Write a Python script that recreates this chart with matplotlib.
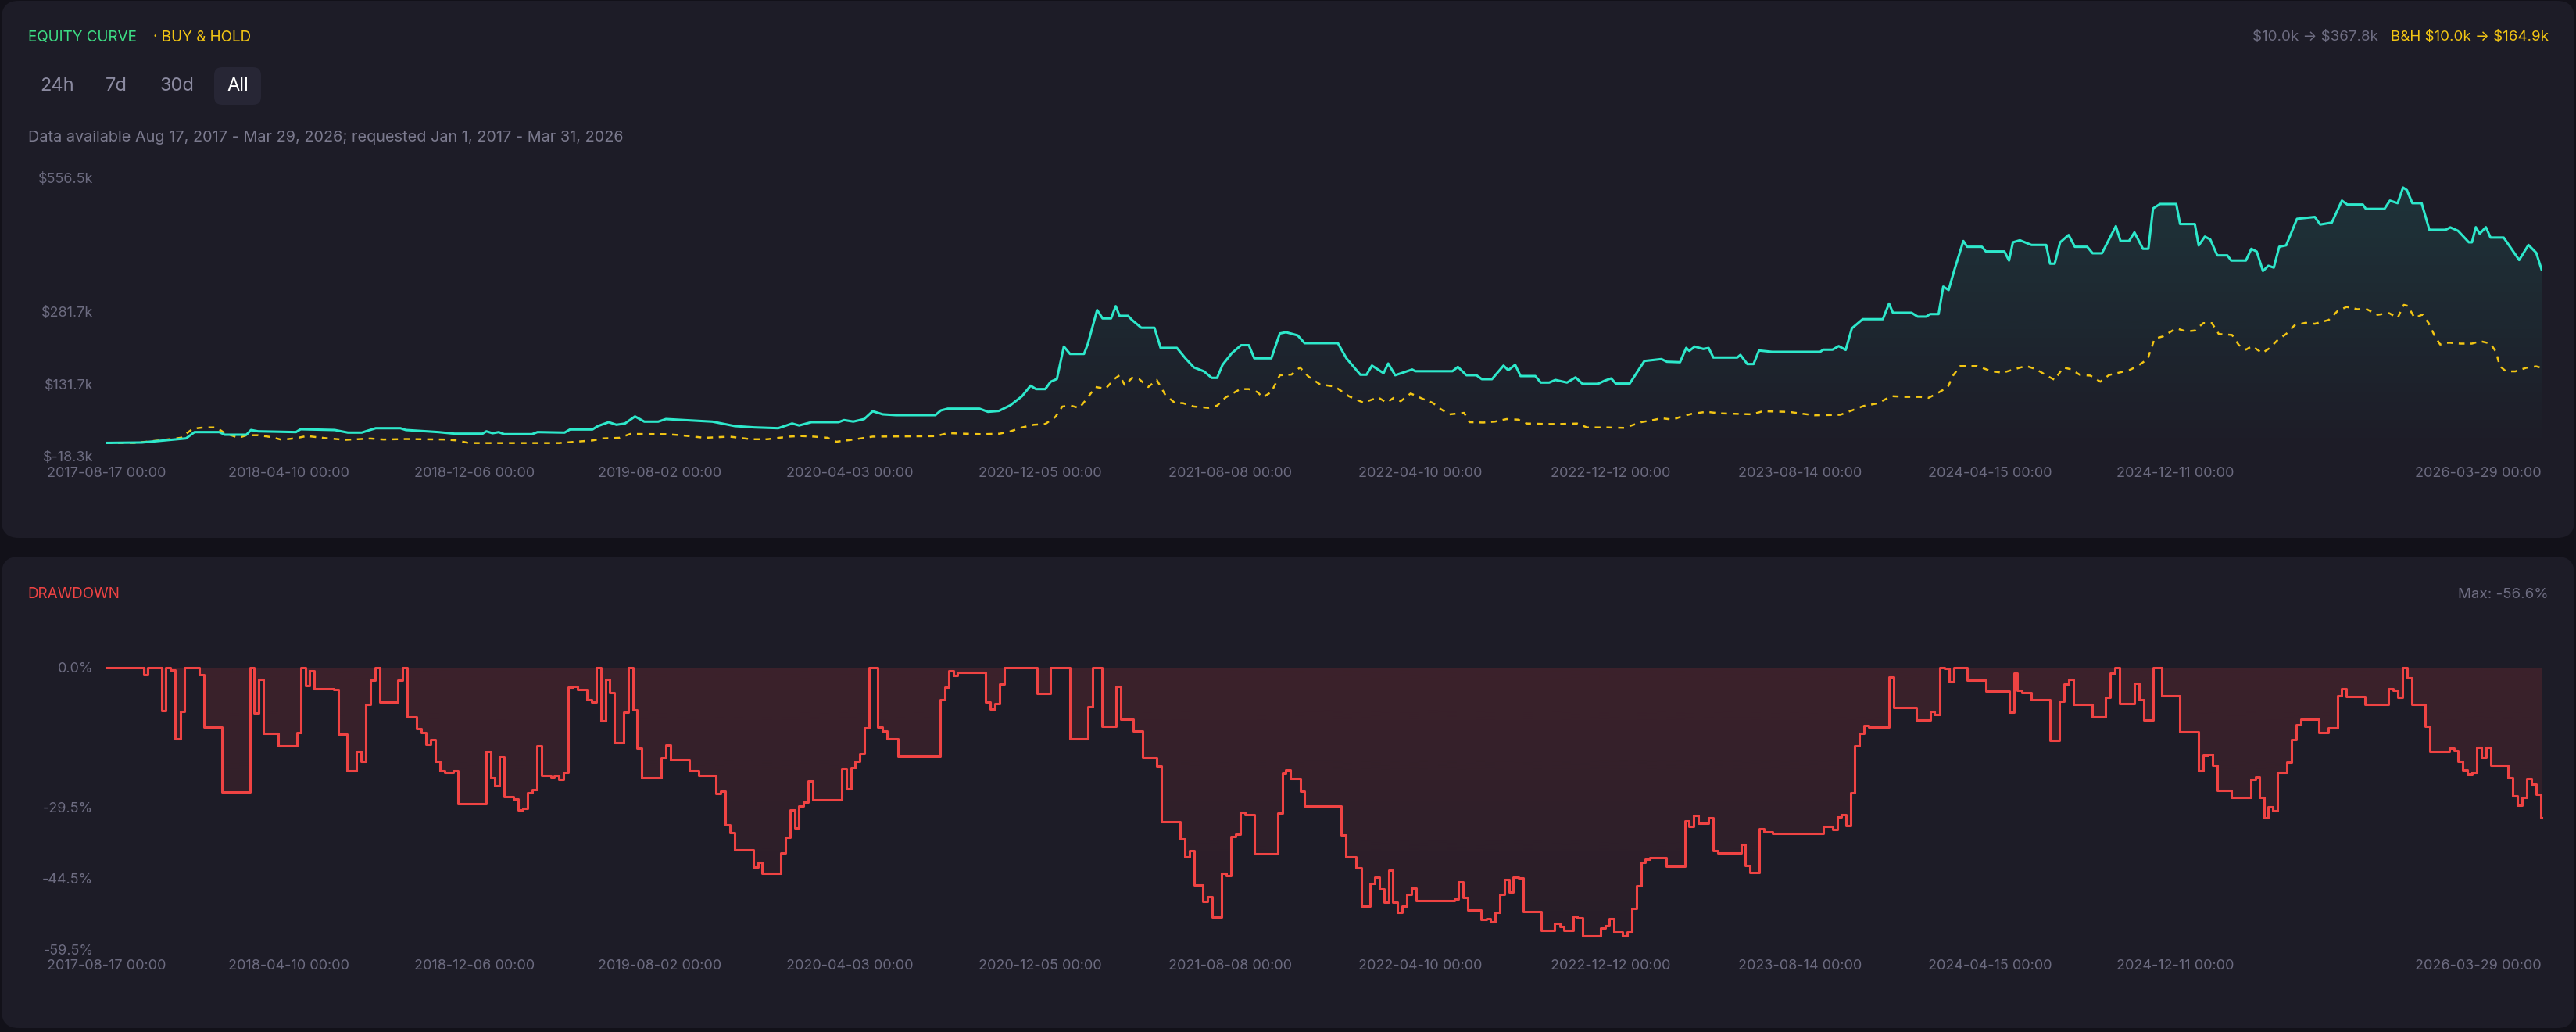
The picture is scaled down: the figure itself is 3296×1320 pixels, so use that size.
import numpy as np
import pandas as pd
import matplotlib
matplotlib.use("Agg")
import matplotlib.pyplot as plt
import matplotlib.dates as mdates
import matplotlib.colors as mcolors
from matplotlib.patches import FancyBboxPatch

plt.rcParams['font.family'] = ['Inter', 'DejaVu Sans']
plt.rcParams['text.parse_math'] = False

# ---------------- data ----------------
START = "2017-08-17"

# strategy equity, days since start / value in $k
eq_days = [0, 46, 75, 103, 114, 146, 153, 181, 187, 196,
           245, 251, 295, 312, 330, 348, 380, 387, 429, 450,
           486, 491, 499, 507, 514, 550, 557, 592, 599, 628,
           635, 649, 659, 670, 683, 695, 713, 723, 783, 812,
           837, 868, 886, 895, 911, 946, 953, 965, 979, 990,
           1003, 1020, 1071, 1078, 1087, 1128, 1139, 1153, 1168, 1183,
           1194, 1201, 1213, 1220, 1228, 1237, 1245, 1263, 1268, 1280,
           1287, 1298, 1304, 1309, 1320, 1325, 1337, 1354, 1362, 1383,
           1394, 1405, 1418, 1428, 1435, 1442, 1454, 1466, 1476, 1483,
           1505, 1516, 1524, 1539, 1548, 1591, 1602, 1620, 1628, 1635,
           1650, 1656, 1665, 1687, 1691, 1739, 1746, 1757, 1770, 1777,
           1790, 1805, 1811, 1820, 1827, 1846, 1853, 1864, 1872, 1887,
           1898, 1907, 1927, 1935, 1944, 1950, 1968, 1987, 2009, 2016,
           2033, 2041, 2045, 2052, 2063, 2070, 2076, 2107, 2111, 2120,
           2128, 2135, 2152, 2214, 2218, 2230, 2238, 2247, 2255, 2269,
           2295, 2303, 2308, 2332, 2340, 2351, 2356, 2367, 2373, 2380,
           2387, 2399, 2404, 2423, 2428, 2452, 2458, 2463, 2472, 2487,
           2506, 2511, 2517, 2524, 2535, 2543, 2559, 2566, 2578, 2596,
           2602, 2613, 2620, 2631, 2638, 2644, 2653, 2674, 2679, 2698,
           2703, 2711, 2718, 2727, 2740, 2745, 2764, 2771, 2778, 2786,
           2793, 2800, 2807, 2816, 2830, 2853, 2860, 2875, 2888, 2895,
           2915, 2919, 2943, 2950, 2960, 2967, 2972, 2979, 2991, 3001,
           3022, 3028, 3038, 3052, 3056, 3061, 3066, 3074, 3080, 3097,
           3117, 3129, 3139, 3146]
eq_vals = [10.0, 10.8, 15.1, 19.3, 32.3, 32.3, 26.9, 26.9, 36.6, 33.9,
           32.3, 38.2, 36.6, 31.3, 31.3, 40.3, 40.3, 36.6, 32.3, 29.0,
           29.0, 33.9, 30.0, 32.3, 28.0, 28.0, 32.3, 31.3, 37.7, 37.7,
           44.7, 52.8, 47.4, 50.0, 64.6, 53.9, 53.9, 59.2, 53.9, 44.7,
           42.0, 40.3, 50.0, 46.0, 52.8, 52.8, 57.1, 54.0, 59.2, 75.4,
           69.0, 67.3, 67.3, 77.0, 80.7, 80.7, 74.2, 76.0, 87.8, 106.5,
           128.2, 121.1, 121.1, 136.3, 142.0, 209.0, 193.7, 193.7, 214.4, 284.4,
           267.1, 267.1, 292.3, 272.4, 272.4, 263.9, 247.8, 247.8, 206.2, 206.2,
           184.7, 165.8, 157.7, 144.3, 144.3, 171.2, 195.4, 211.7, 211.7, 184.7,
           184.7, 235.9, 238.5, 232.0, 215.9, 215.9, 184.7, 150.8, 150.8, 169.6,
           154.0, 173.9, 149.7, 161.5, 158.0, 158.0, 166.9, 149.7, 149.7, 141.6,
           141.6, 169.6, 160.0, 171.2, 148.0, 148.0, 134.6, 134.6, 140.0, 134.6,
           145.3, 131.9, 131.9, 138.0, 143.2, 132.5, 132.5, 179.2, 183.1, 177.6,
           176.6, 206.2, 200.0, 208.9, 204.0, 206.0, 186.3, 186.3, 191.7, 172.8,
           172.8, 200.8, 198.0, 198.0, 202.5, 202.5, 209.9, 202.0, 246.6, 265.5,
           265.5, 297.7, 278.8, 278.8, 270.8, 270.8, 276.0, 276.0, 332.7, 325.7,
           365.0, 426.9, 415.0, 415.0, 405.4, 405.4, 386.6, 424.2, 428.4, 418.8,
           418.8, 380.1, 380.1, 424.2, 439.3, 415.0, 415.0, 401.6, 401.6, 457.6,
           426.9, 426.9, 444.7, 410.8, 410.8, 494.1, 503.3, 503.3, 461.9, 461.9,
           417.7, 436.0, 430.0, 397.2, 397.2, 386.6, 386.6, 410.8, 405.0, 365.0,
           375.8, 372.0, 415.0, 418.0, 472.7, 476.5, 460.9, 465.0, 510.3, 502.2,
           502.2, 493.2, 493.2, 510.3, 505.0, 537.3, 532.0, 505.0, 505.0, 450.0,
           450.0, 455.0, 448.0, 424.2, 424.2, 455.4, 442.0, 455.4, 434.0, 434.0,
           387.6, 418.8, 402.7, 367.8]

# buy & hold, days since start / value in $k
bh_days = [0, 36, 68, 96, 112, 126, 142, 153, 171, 181,
           196, 213, 227, 246, 259, 282, 309, 341, 358, 387,
           436, 454, 468, 585, 606, 628, 642, 663, 677, 723,
           741, 773, 805, 833, 854, 882, 897, 914, 932, 943,
           961, 990, 1072, 1087, 1109, 1131, 1154, 1168, 1183, 1198,
           1213, 1226, 1235, 1246, 1257, 1268, 1278, 1291, 1302, 1309,
           1316, 1325, 1334, 1346, 1357, 1368, 1380, 1391, 1405, 1424,
           1435, 1446, 1465, 1476, 1487, 1494, 1505, 1516, 1531, 1542,
           1553, 1568, 1587, 1605, 1624, 1643, 1654, 1663, 1672, 1685,
           1702, 1713, 1724, 1735, 1754, 1761, 1779, 1794, 1809, 1824,
           1835, 1861, 1879, 1900, 1913, 1939, 1961, 1983, 1998, 2009,
           2024, 2033, 2048, 2067, 2085, 2107, 2126, 2140, 2174, 2192,
           2207, 2240, 2255, 2270, 2288, 2306, 2325, 2343, 2354, 2365,
           2379, 2386, 2395, 2417, 2436, 2450, 2465, 2480, 2493, 2506,
           2517, 2528, 2538, 2550, 2563, 2576, 2587, 2600, 2613, 2624,
           2637, 2646, 2657, 2674, 2687, 2698, 2709, 2720, 2729, 2746,
           2755, 2764, 2772, 2785, 2794, 2805, 2816, 2827, 2841, 2853,
           2871, 2882, 2894, 2908, 2919, 2934, 2949, 2960, 2968, 2973,
           2982, 2992, 3000, 3008, 3015, 3026, 3041, 3056, 3067, 3080,
           3087, 3092, 3100, 3112, 3126, 3139, 3146]
bh_vals = [10.0, 10.0, 15.0, 20.5, 39.4, 41.9, 41.9, 30.2, 20.5, 25.8,
           25.8, 22.0, 16.3, 20.0, 24.2, 20.0, 16.3, 19.0, 17.0, 18.0,
           17.0, 15.0, 9.7, 9.7, 12.4, 15.0, 19.3, 20.5, 28.5, 28.0,
           26.0, 20.5, 23.0, 17.6, 17.6, 23.0, 24.2, 23.0, 20.5, 12.4,
           16.0, 23.0, 24.0, 30.2, 29.0, 28.0, 29.0, 33.9, 41.9, 47.4,
           49.0, 63.5, 85.1, 87.0, 82.0, 103.9, 125.4, 122.0, 141.6, 149.7,
           128.2, 144.3, 142.0, 125.4, 140.0, 109.3, 93.1, 92.0, 85.1, 82.4,
           87.0, 103.9, 121.1, 121.1, 115.0, 103.9, 115.0, 149.7, 151.0, 165.8,
           146.9, 130.8, 126.3, 106.5, 93.1, 103.9, 93.1, 103.0, 96.0, 112.0,
           100.0, 93.1, 79.7, 68.9, 72.0, 52.8, 52.0, 54.0, 59.2, 58.0,
           50.0, 49.0, 49.0, 50.0, 41.9, 41.9, 41.0, 52.8, 57.1, 60.9,
           58.0, 63.5, 70.0, 74.2, 71.0, 70.0, 69.0, 75.4, 74.0, 70.0,
           67.0, 68.0, 77.0, 86.2, 91.5, 106.5, 105.0, 105.0, 103.0, 112.0,
           125.4, 149.7, 168.6, 168.6, 157.7, 155.0, 162.0, 169.0, 162.0, 149.7,
           140.0, 165.8, 162.0, 150.0, 149.0, 136.3, 150.0, 155.0, 160.0, 168.6,
           183.1, 225.1, 230.0, 246.6, 240.0, 242.0, 257.4, 257.4, 234.8, 233.0,
           211.7, 202.5, 210.0, 195.4, 205.0, 222.3, 235.0, 253.0, 258.0, 256.0,
           263.9, 281.7, 290.8, 286.0, 287.0, 274.5, 278.0, 268.0, 295.0, 293.0,
           268.0, 275.0, 257.4, 230.4, 213.1, 217.0, 215.0, 215.0, 220.0, 215.0,
           198.1, 168.6, 157.7, 157.7, 165.0, 168.0, 164.9]

# drawdown (%), step series: value holds from its day to the next
dd_days = [0, 48, 54, 72, 77, 83, 89, 96, 101, 120,
           126, 149, 186, 191, 197, 203, 222, 246, 251, 257,
           263, 269, 294, 300, 311, 323, 329, 335, 341, 347,
           353, 377, 383, 389, 401, 407, 413, 419, 425, 431,
           437, 448, 454, 491, 497, 502, 508, 514, 526, 532,
           538, 544, 550, 556, 562, 574, 579, 585, 591, 597,
           603, 609, 621, 627, 633, 639, 645, 650, 656, 668,
           674, 680, 686, 692, 717, 723, 729, 753, 765, 788,
           794, 800, 806, 812, 836, 842, 847, 871, 877, 883,
           889, 895, 901, 907, 913, 950, 956, 962, 967, 973,
           979, 985, 997, 1003, 1009, 1023, 1077, 1083, 1088, 1094,
           1099, 1130, 1136, 1142, 1148, 1154, 1160, 1202, 1220, 1245,
           1268, 1274, 1286, 1304, 1310, 1327, 1339, 1357, 1363, 1387,
           1393, 1399, 1405, 1417, 1423, 1429, 1441, 1447, 1453, 1459,
           1465, 1471, 1483, 1513, 1519, 1524, 1530, 1543, 1548, 1595,
           1601, 1614, 1621, 1633, 1639, 1645, 1651, 1657, 1662, 1668,
           1674, 1680, 1686, 1692, 1742, 1747, 1753, 1759, 1776, 1783,
           1788, 1794, 1800, 1806, 1812, 1817, 1824, 1830, 1854, 1871,
           1878, 1883, 1895, 1900, 1907, 1930, 1936, 1942, 1948, 1959,
           1965, 1971, 1977, 1983, 1988, 1994, 2015, 2039, 2045, 2051,
           2057, 2070, 2076, 2082, 2112, 2117, 2123, 2135, 2141, 2153,
           2218, 2230, 2236, 2241, 2247, 2253, 2259, 2265, 2271, 2277,
           2303, 2309, 2338, 2356, 2362, 2369, 2375, 2381, 2387, 2404,
           2428, 2458, 2464, 2469, 2475, 2487, 2511, 2523, 2529, 2535,
           2541, 2565, 2583, 2589, 2595, 2601, 2620, 2626, 2632, 2644,
           2655, 2679, 2703, 2709, 2715, 2721, 2727, 2745, 2770, 2776,
           2782, 2788, 2793, 2799, 2805, 2811, 2817, 2823, 2829, 2835,
           2858, 2870, 2882, 2888, 2894, 2918, 2948, 2954, 2960, 2966,
           2972, 2978, 2996, 3002, 3027, 3033, 3038, 3044, 3050, 3056,
           3062, 3068, 3074, 3080, 3103, 3109, 3115, 3121, 3127, 3133,
           3139, 3145, 3146]
dd_vals = [0.0, -1.6, 0.0, -9.2, 0.0, -0.5, -15.1, -9.3, 0.0, -1.6,
           -12.6, -26.3, 0.0, -9.6, -2.5, -13.9, -16.5, -13.8, 0.0, -3.9,
           -0.8, -4.5, -4.7, -14.1, -21.9, -17.7, -19.8, -7.9, -2.8, 0.0,
           -7.4, -2.7, 0.0, -10.4, -12.9, -13.8, -16.2, -15.3, -19.9, -21.9,
           -22.1, -21.9, -28.7, -17.8, -23.3, -25.0, -18.9, -27.2, -27.8, -30.1,
           -29.8, -26.5, -25.8, -16.6, -22.9, -23.2, -22.9, -23.6, -22.1, -4.2,
           -4.1, -4.7, -6.8, -7.4, 0.0, -11.3, -2.5, -5.4, -15.9, -9.5,
           0.0, -9.0, -17.1, -23.3, -19.1, -16.4, -19.5, -21.8, -22.9, -26.6,
           -26.2, -33.2, -34.9, -38.5, -42.1, -41.2, -43.5, -39.1, -35.8, -30.0,
           -33.9, -29.3, -28.5, -23.9, -27.9, -21.4, -25.6, -21.1, -19.9, -18.2,
           -12.8, 0.0, -12.6, -13.5, -15.1, -18.7, -6.9, -4.2, -0.7, -1.8,
           -1.0, -1.1, -7.4, -8.8, -7.7, -3.5, 0.0, -5.5, 0.0, -15.1,
           -8.4, 0.0, -12.5, -4.1, -10.9, -13.5, -19.0, -20.8, -32.5, -36.2,
           -40.0, -38.7, -45.9, -49.3, -48.4, -52.6, -43.5, -44.0, -35.7, -35.2,
           -30.5, -31.0, -39.3, -30.8, -22.4, -21.7, -23.5, -26.1, -29.2, -35.3,
           -40.0, -42.2, -50.3, -45.6, -44.2, -46.7, -49.6, -42.7, -49.5, -51.6,
           -50.3, -47.9, -46.5, -49.2, -48.9, -45.3, -48.5, -51.1, -53.2, -53.0,
           -53.6, -51.6, -47.8, -44.8, -47.4, -44.2, -44.5, -51.5, -55.4, -54.0,
           -54.6, -55.4, -52.5, -52.9, -56.6, -54.9, -54.5, -53.0, -55.8, -56.6,
           -55.8, -50.8, -46.0, -41.1, -40.4, -40.1, -41.9, -32.4, -33.6, -31.2,
           -32.8, -31.8, -38.7, -39.2, -37.4, -41.8, -43.2, -34.1, -34.7, -35.1,
           -33.5, -34.2, -31.5, -31.1, -33.3, -26.4, -16.6, -14.0, -12.2, -12.6,
           -2.1, -8.5, -11.2, -9.3, -9.9, 0.0, -0.3, -3.1, 0.0, -2.8,
           -5.0, -9.4, -1.2, -4.9, -5.3, -6.8, -15.4, -7.1, -3.6, -2.5,
           -7.8, -10.4, -6.3, -1.3, 0.0, -7.6, -3.4, -6.8, -11.1, 0.0,
           -6.0, -13.6, -21.9, -18.5, -18.4, -20.7, -26.0, -27.5, -23.6, -23.2,
           -27.5, -31.8, -29.5, -30.3, -22.2, -22.1, -20.1, -15.2, -12.1, -11.0,
           -13.8, -12.8, -6.0, -4.6, -6.2, -7.8, -4.6, -4.8, -6.4, 0.0,
           -2.2, -7.8, -12.5, -17.8, -17.1, -17.6, -19.9, -21.6, -22.5, -22.2,
           -16.9, -19.1, -16.9, -20.7, -23.4, -27.1, -29.1, -27.4, -23.5, -24.6,
           -26.8, -31.8, -31.8]

x_tick_dates = ["2017-08-17", "2018-04-10", "2018-12-06", "2019-08-02", "2020-04-03",
                "2020-12-05", "2021-08-08", "2022-04-10", "2022-12-12", "2023-08-14",
                "2024-04-15", "2024-12-11", "2026-03-29"]
eq_yticks = [-18.3, 131.7, 281.7, 556.5]
dd_yticks = [0.0, -29.5, -44.5, -59.5]

# ---------------- style ----------------
W, H = 3296, 1320
BG = "#121119"
PANEL = "#1d1c27"
TEAL = "#2ee8cb"
YEL = "#f2c514"
RED = "#ef4343"
GRID_TXT = "#6c6b80"

fig = plt.figure(figsize=(W / 100, H / 100), dpi=100, facecolor=BG)


def px_box(x, y_top, w, h, r, color):
    p = FancyBboxPatch((x, H - y_top - h), w, h,
                       boxstyle=f"round,pad=0,rounding_size={r}",
                       transform=None, facecolor=color, edgecolor="none", zorder=-5)
    fig.add_artist(p)


px_box(2, 1, 3292, 687, 22, PANEL)
px_box(2, 712, 3292, 603, 22, PANEL)
px_box(274, 86, 60, 48, 10, "#272635")


def ftext(x, y, s, **kw):
    fig.text(x / W, 1 - y / H, s, **kw)


ftext(36, 48, "EQUITY CURVE", color="#3ddc84", fontsize=13.6, va="center", ha="left")
ftext(196, 48, "· BUY & HOLD", color=YEL, fontsize=13.6, va="center", ha="left")
ftext(3261, 48, "B&H $10.0k → $164.9k", color=YEL, fontsize=13.5, va="center", ha="right")
ftext(3043, 48, "$10.0k → $367.8k", color="#6e6d82", fontsize=13.5, va="center", ha="right")
for lab, cx, col in [("24h", 73.5, "#8b8aa0"), ("7d", 149, "#8b8aa0"),
                     ("30d", 226.5, "#8b8aa0"), ("All", 304, "#ffffff")]:
    ftext(cx, 110, lab, color=col, fontsize=17, va="center", ha="center")
ftext(36, 176, "Data available Aug 17, 2017 - Mar 29, 2026; requested Jan 1, 2017 - Mar 31, 2026",
      color="#7b7a8e", fontsize=14.3, va="center", ha="left")
ftext(35, 760, "DRAWDOWN", color=RED, fontsize=13.6, va="center", ha="left")
ftext(3261, 760, "Max: -56.6%", color="#6e6d82", fontsize=13.5, va="center", ha="right")

# ---------------- axes ----------------
start = pd.Timestamp(START)
def to_x(days):
    return mdates.date2num(start + pd.to_timedelta(np.asarray(days), unit="D"))

xe, xb, xd = to_x(eq_days), to_x(bh_days), to_x(dd_days)
ye, yb, yd = np.array(eq_vals), np.array(bh_vals), np.array(dd_vals)
x0, x1 = xe[0], xe[-1]
xt = mdates.date2num(pd.to_datetime(x_tick_dates))
xt_labels = [d + " 00:00" for d in x_tick_dates]

L = 136 / W
Wd = (3252 - 136) / W
ax1 = fig.add_axes([L, 1 - 584 / H, Wd, (584 - 228) / H])
ax2 = fig.add_axes([L, 1 - 1214.5 / H, Wd, (1214.5 - 853.5) / H])


def grad_fill(ax, x, y, base, color, a_top, a_bot, ylim, step=None):
    coll = ax.fill_between(x, y, base, step=step, facecolor="none", edgecolor="none", lw=0)
    path = coll.get_paths()[0]
    g = np.zeros((256, 1, 4))
    g[..., :3] = mcolors.to_rgb(color)
    g[..., 3] = np.linspace(a_top, a_bot, 256)[:, None]
    im = ax.imshow(g, aspect="auto", extent=[x[0], x[-1], ylim[0], ylim[1]],
                   origin="upper", zorder=1, interpolation="bilinear")
    im.set_clip_path(path, transform=ax.transData)


for ax in (ax1, ax2):
    ax.set_facecolor("none")
    for s in ax.spines.values():
        s.set_visible(False)

# equity panel
ylim1 = (eq_yticks[0], eq_yticks[-1])
grad_fill(ax1, xe, ye, ylim1[0], TEAL, 0.12, 0.0, ylim1)
ax1.plot(xb, yb, color=YEL, lw=1.8, dashes=(3, 3), zorder=3)
ax1.plot(xe, ye, color=TEAL, lw=2.2, zorder=4, solid_joinstyle="round")
ax1.set_xlim(x0, x1)
ax1.set_ylim(*ylim1)
ax1.set_yticks(eq_yticks)
ax1.set_yticklabels([f"${v:.1f}k" for v in eq_yticks])

# drawdown panel
ylim2 = (dd_yticks[-1], dd_yticks[0])
grad_fill(ax2, xd, yd, 0.0, RED, 0.15, 0.04, ylim2, step="post")
ax2.step(xd, yd, where="post", color=RED, lw=2.2, zorder=4, clip_on=False)
ax2.set_xlim(x0, x1)
ax2.set_ylim(*ylim2)
ax2.set_yticks(dd_yticks)
ax2.set_yticklabels([f"{v:.1f}%" for v in dd_yticks])

for ax in (ax1, ax2):
    ax.set_xticks(xt)
    ax.set_xticklabels(xt_labels)
    ax.tick_params(axis="both", length=0, colors=GRID_TXT, labelsize=13)
    ax.tick_params(axis="x", pad=9)
    ax.tick_params(axis="y", pad=12)
    labs = ax.get_xticklabels()
    labs[-1].set_ha("right")

fig.savefig("out.png", dpi=100, facecolor=BG)
